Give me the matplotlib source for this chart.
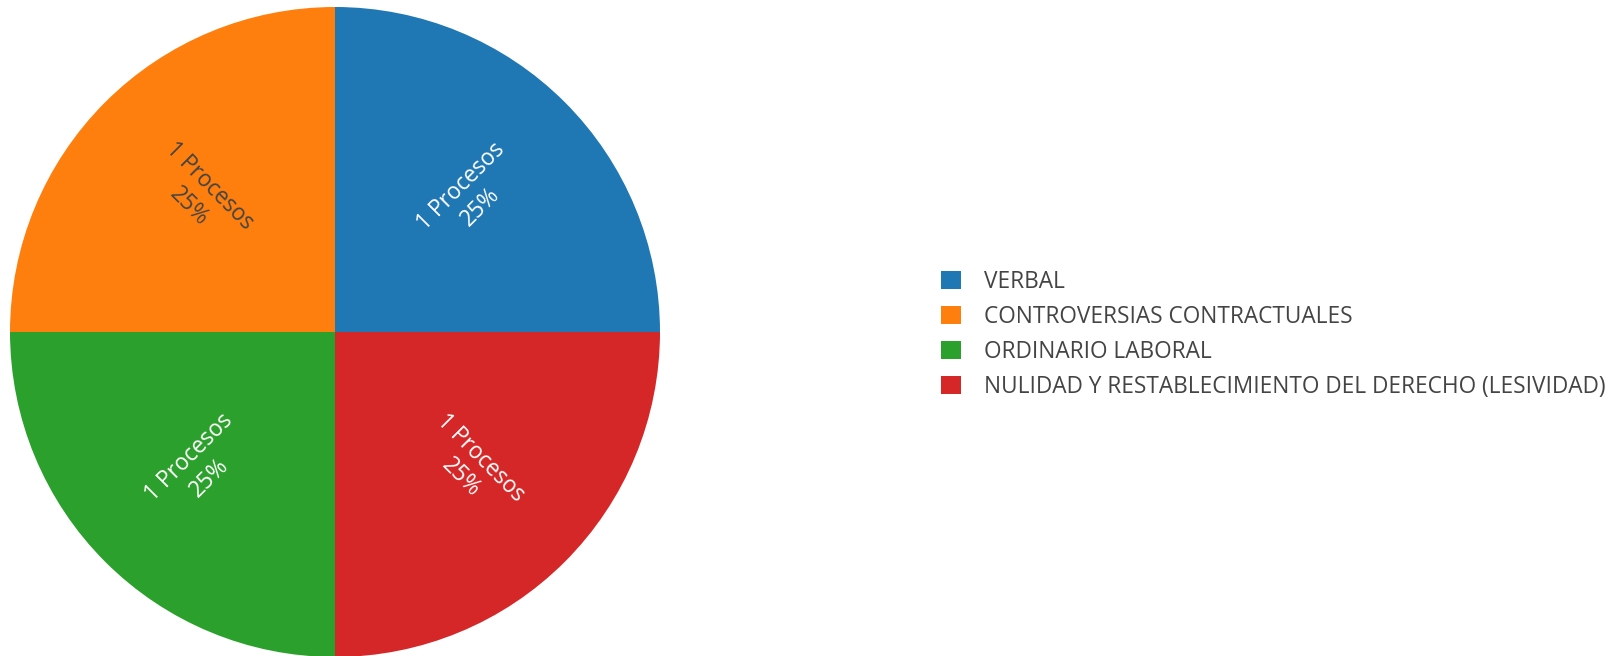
import numpy as np
import matplotlib.pyplot as plt
from matplotlib.patches import Patch

plt.rcParams['font.family'] = ['Open Sans', 'DejaVu Sans']

# legend order
categories = ['VERBAL', 'CONTROVERSIAS CONTRACTUALES', 'ORDINARIO LABORAL',
              'NULIDAD Y RESTABLECIMIENTO DEL DERECHO (LESIVIDAD)']
values = [1, 1, 1, 1]
colors = ['#1f77b4', '#ff7f0e', '#2ca02c', '#d62728']
text_colors = ['white', '#444444', 'white', 'white']
# clockwise order of slices starting at 12 o'clock
slice_order = [0, 3, 2, 1]

fig = plt.figure(figsize=(16.22, 6.56), dpi=100)
ax = fig.add_axes([10 / 1622, -1 / 656, 650 / 1622, 650 / 656])

vals = [values[i] for i in slice_order]
cols = [colors[i] for i in slice_order]
wedges, _ = ax.pie(vals, colors=cols, startangle=90, counterclock=False,
                   radius=1, wedgeprops=dict(linewidth=0))
ax.set_xlim(-1, 1)
ax.set_ylim(-1, 1)
ax.set_aspect('equal')
ax.axis('off')

total = sum(values)
for w, i in zip(wedges, slice_order):
    mid = ((w.theta1 + w.theta2) / 2) % 360
    a = np.deg2rad(mid)
    x = 0.59 * np.cos(a)
    y = 0.59 * np.sin(a)
    rot = mid
    if 90 < rot <= 270:
        rot -= 180
    elif rot > 270:
        rot -= 360
    pct = values[i] / total * 100
    ax.text(x, y, '{} Procesos\n{:.0f}%'.format(values[i], pct), ha='center', va='center',
            rotation=rot, rotation_mode='anchor', color=text_colors[i], fontsize=16.3,
            linespacing=1.25)

handles = [Patch(facecolor=c, edgecolor='none') for c in colors]
leg = fig.legend(handles, categories, loc='upper left',
                 bbox_to_anchor=(941 / 1622, 1 - 270 / 656), frameon=False,
                 fontsize=16.3, handlelength=0.88, handleheight=0.88,
                 handletextpad=1.03, labelspacing=0.48, borderaxespad=0, borderpad=0)
for t in leg.get_texts():
    t.set_color('#444444')

fig.savefig('out.png', dpi=100)
